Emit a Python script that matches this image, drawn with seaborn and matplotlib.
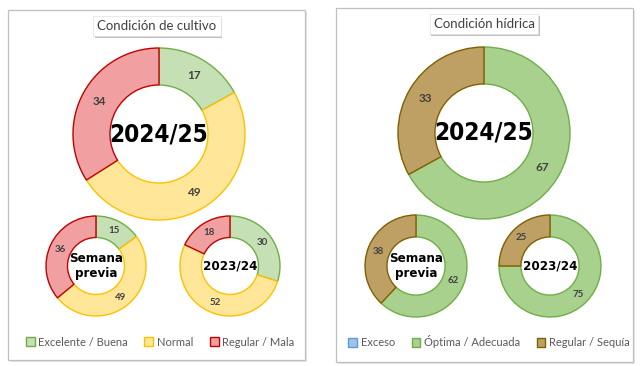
import matplotlib
matplotlib.use("Agg")
import matplotlib.pyplot as plt
import matplotlib.patheffects as pe
from matplotlib.patches import Rectangle, Patch
import seaborn as sns

# Condición de cultivo (% del área)
cultivo_categorias = ["Excelente / Buena", "Normal", "Regular / Mala"]
cultivo_actual = [17, 49, 34]
cultivo_previa = [15, 49, 36]
cultivo_anterior = [30, 52, 18]

# Condición hídrica (% del área)
hidrica_categorias = ["Exceso", "Óptima / Adecuada", "Regular / Sequía"]
hidrica_actual = [0, 67, 33]
hidrica_previa = [0, 62, 38]
hidrica_anterior = [0, 75, 25]

cultivo_fill = ["#C5E0B4", "#FFE699", "#F0A0A0"]
cultivo_edge = ["#70AD47", "#FFC000", "#C00000"]
hidrica_fill = ["#9DC3E6", "#A9D18E", "#BFA064"]
hidrica_edge = ["#5B9BD5", "#70AD47", "#7F6000"]

sns.set_theme(style="white")
plt.rcParams["font.family"] = ["Lato", "DejaVu Sans"]

W, H = 640, 366
fig = plt.figure(figsize=(6.4, 3.66), dpi=100)
ax = fig.add_axes([0, 0, 1, 1])


def donut(values, fills, edges, cx, cy, r, center_text, big):
    vals = [v for v in values if v > 0]
    fc = [f for v, f in zip(values, fills) if v > 0]
    ec = [e for v, e in zip(values, edges) if v > 0]
    wedges, _, autotexts = ax.pie(
        vals, colors=fc, center=(cx, H - cy), radius=r, startangle=90,
        counterclock=False, frame=True, autopct=lambda p: f"{p:.0f}",
        pctdistance=0.79,
        wedgeprops=dict(width=r * 0.43, linewidth=1.0),
        textprops=dict(fontsize=8.5 if big else 7, fontweight="bold",
                       color="#404040"))
    for w, e in zip(wedges, ec):
        w.set_edgecolor(e)
    ax.text(cx, H - cy, center_text, ha="center", va="center",
            fontsize=17.5 if big else 9.5, fontweight="bold", color="black",
            family="DejaVu Sans", fontstretch="condensed",
            linespacing=1.15)


def panel(x0, y0, x1, y1, title, tx, ty):
    ax.add_patch(Rectangle((x0 + 1.5, H - y1 - 1.5), x1 - x0, y1 - y0,
                           fc="#E6E6E6", ec="none", zorder=0))
    ax.add_patch(Rectangle((x0, H - y1), x1 - x0, y1 - y0,
                           fc="white", ec="#BFBFBF", lw=0.9, zorder=0))
    t = ax.text(tx, H - ty, title, ha="center", va="center", fontsize=9.5,
                color="#404040",
                bbox=dict(boxstyle="square,pad=0.3", fc="white", ec="#E0E0E0",
                          lw=0.5))
    t.get_bbox_patch().set_path_effects(
        [pe.SimplePatchShadow(offset=(1.2, -1.5), alpha=0.35), pe.Normal()])


panel(8, 10, 305, 360, "Condición de cultivo", 157, 26)
panel(336, 8, 633, 362, "Condición hídrica", 484, 24)

donut(cultivo_actual, cultivo_fill, cultivo_edge, 159, 134, 86, "2024/25", True)
donut(cultivo_previa, cultivo_fill, cultivo_edge, 96, 266, 50, "Semana\nprevia", False)
donut(cultivo_anterior, cultivo_fill, cultivo_edge, 230, 266, 50, "2023/24", False)

donut(hidrica_actual, hidrica_fill, hidrica_edge, 484, 133, 86, "2024/25", True)
donut(hidrica_previa, hidrica_fill, hidrica_edge, 416, 266, 51, "Semana\nprevia", False)
donut(hidrica_anterior, hidrica_fill, hidrica_edge, 550, 266, 51, "2023/24", False)

for cats, fills, edges, xc in [(cultivo_categorias, cultivo_fill, cultivo_edge, 160),
                               (hidrica_categorias, hidrica_fill, hidrica_edge, 489)]:
    handles = [Patch(fc=f, ec=e, lw=1.0) for f, e in zip(fills, edges)]
    fig.legend(handles, cats, loc="center", ncol=3, frameon=False,
               bbox_to_anchor=(xc / W, 1 - 342 / H), fontsize=8,
               handlelength=0.8, handleheight=0.8, handletextpad=0.3,
               columnspacing=1.5, labelcolor="#595959")

ax.set_xlim(0, W)
ax.set_ylim(0, H)
ax.set_aspect("auto")
ax.axis("off")

fig.savefig("out.png", dpi=100)
